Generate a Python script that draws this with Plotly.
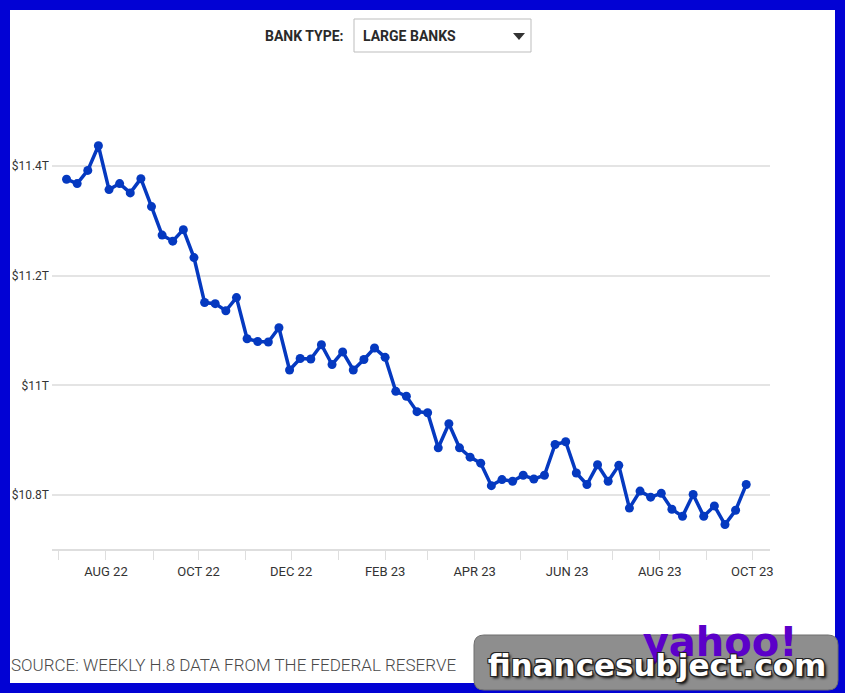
import pandas as pd
import plotly.graph_objects as go

# ---- data (trillions of USD, weekly H.8, large banks) ----
week_start = "2022-07-06"
deposits = [
    11.376, 11.368, 11.392, 11.437, 11.357, 11.368, 11.351, 11.377, 11.326, 11.274,
    11.263, 11.284, 11.233, 11.151, 11.149, 11.136, 11.160, 11.085, 11.080, 11.079,
    11.105, 11.028, 11.049, 11.048, 11.074, 11.038, 11.061, 11.028, 11.047, 11.068,
    11.051, 10.989, 10.980, 10.952, 10.950, 10.886, 10.930, 10.886, 10.869, 10.858,
    10.817, 10.828, 10.825, 10.836, 10.829, 10.836, 10.892, 10.897, 10.840, 10.819,
    10.855, 10.825, 10.854, 10.776, 10.807, 10.796, 10.803, 10.774, 10.761, 10.801,
    10.761, 10.780, 10.746, 10.772, 10.819,
]
dates = pd.date_range(week_start, periods=len(deposits), freq="7D")

y_tickvals = [10.8, 11.0, 11.2, 11.4]
y_ticktext = ["$10.8T", "$11T", "$11.2T", "$11.4T"]

x_tickvals = pd.date_range("2022-07-01", "2023-10-01", freq="MS")
x_labels = {8: "AUG", 10: "OCT", 12: "DEC", 2: "FEB", 4: "APR", 6: "JUN"}
x_ticktext = [
    f"{x_labels[d.month]} {d.strftime('%y')}" if d.month in x_labels else ""
    for d in x_tickvals
]

# ---- layout geometry (pixels) ----
W, H = 845, 693
L, R, T, B = 52, 770, 120, 549
PW, PH = R - L, B - T

def px(x):
    return (x - L) / PW

def py(y):
    return (B - y) / PH

FONT = "Roboto, Liberation Sans, sans-serif"
LINE_BLUE = "#0539c0"

fig = go.Figure()
fig.add_trace(go.Scatter(
    x=dates, y=deposits, mode="lines+markers",
    line=dict(color=LINE_BLUE, width=3.5),
    marker=dict(color=LINE_BLUE, size=9),
    hoverinfo="x+y", showlegend=False,
))

def rrect_path(x0, y0, x1, y1, r):
    rx, ry = r / PW, r / PH
    a, b, c, d = px(x0), py(y0), px(x1), py(y1)  # b top, d bottom in paper
    return (f"M {a+rx},{b} L {c-rx},{b} Q {c},{b} {c},{b-ry} "
            f"L {c},{d+ry} Q {c},{d} {c-rx},{d} L {a+rx},{d} "
            f"Q {a},{d} {a},{d+ry} L {a},{b-ry} Q {a},{b} {a+rx},{b} Z")

shapes = [
    # white page inside blue frame
    dict(type="rect", xref="paper", yref="paper", layer="below",
         x0=px(10), x1=px(835), y0=py(683), y1=py(10),
         fillcolor="white", line=dict(width=0)),
    # dropdown box
    dict(type="rect", xref="paper", yref="paper", layer="above",
         x0=px(354), x1=px(531), y0=py(52), y1=py(19),
         fillcolor="white", line=dict(color="#bdbdbd", width=1)),
    # dropdown arrow
    dict(type="path", xref="paper", yref="paper", layer="above",
         path=f"M {px(513)},{py(33)} L {px(525)},{py(33)} L {px(519)},{py(40)} Z",
         fillcolor="#333333", line=dict(width=0)),
    # watermark box
    dict(type="path", xref="paper", yref="paper", layer="above",
         path=rrect_path(474, 635, 838, 690, 10),
         fillcolor="#8e8e8e", line=dict(color="#6f6f6f", width=1)),
    # yahoo! logo text
    dict(type="rect", xref="paper", yref="paper", layer="above",
         x0=px(645), x1=px(795), y0=py(662), y1=py(616),
         fillcolor="rgba(0,0,0,0)", line=dict(width=0),
         label=dict(text="<b>yahoo!</b>", textposition="middle center",
                    font=dict(family="DejaVu Sans", size=40, color="#5b00c9"))),
    # watermark text
    dict(type="rect", xref="paper", yref="paper", layer="above",
         x0=px(480), x1=px(834), y0=py(686), y1=py(640),
         fillcolor="rgba(0,0,0,0)", line=dict(width=0),
         label=dict(text="<b>financesubject.com</b>", textposition="middle center",
                    font=dict(family="DejaVu Sans", size=31, color="white",
                              shadow="1px 1px 0 #222, -1px -1px 0 #222, 1px -1px 0 #222, -1px 1px 0 #222, 2px 2px 3px #000"))),
]

annotations = [
    dict(text="<b>BANK TYPE:</b>", xref="paper", yref="paper",
         x=px(346), y=py(36), xanchor="right", yanchor="middle", showarrow=False,
         font=dict(family=FONT, size=14, color="#2a2a2a")),
    dict(text="<b>LARGE BANKS</b>", xref="paper", yref="paper",
         x=px(361), y=py(36), xanchor="left", yanchor="middle", showarrow=False,
         font=dict(family=FONT, size=14, color="#2a2a2a")),
    dict(text="SOURCE: WEEKLY H.8 DATA FROM THE FEDERAL RESERVE", xref="paper", yref="paper",
         x=px(9), y=py(665), xanchor="left", yanchor="middle", showarrow=False,
         font=dict(family=FONT, size=17, color="#4a4a4a", weight=300)),
]

fig.update_layout(
    width=W, height=H, autosize=False,
    margin=dict(l=L, r=W - R, t=T, b=H - B, pad=0),
    paper_bgcolor="#0202d4", plot_bgcolor="white",
    shapes=shapes, annotations=annotations,
    showlegend=False,
    xaxis=dict(
        type="date", automargin=False,
        range=["2022-06-26 10:00", "2023-10-12 16:00"],
        tickmode="array", tickvals=x_tickvals, ticktext=x_ticktext,
        showgrid=False, zeroline=False,
        showline=True, linecolor="#dedede", linewidth=2,
        ticks="outside", ticklen=9, tickwidth=1, tickcolor="#dedede",
        tickfont=dict(family=FONT, size=13, color="#333333"),
        fixedrange=True,
    ),
    yaxis=dict(
        automargin=False,
        range=[10.7014, 11.4840],
        tickmode="array", tickvals=y_tickvals, ticktext=y_ticktext,
        showgrid=True, gridcolor="#e4e4e4", gridwidth=1.5,
        zeroline=False, showline=False, ticks="",
        ticklabelstandoff=2,
        tickfont=dict(family=FONT, size=12, color="#333333"),
        fixedrange=True,
    ),
)

fig.write_html("out.html")
